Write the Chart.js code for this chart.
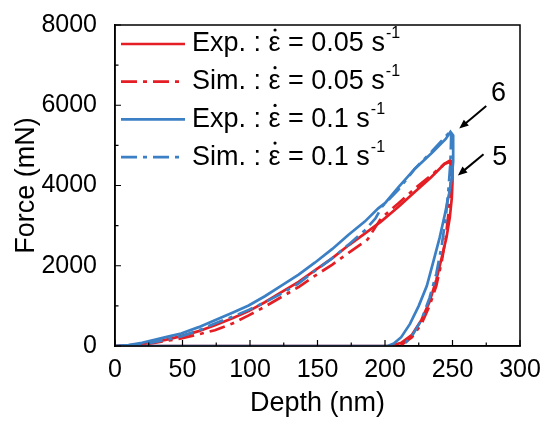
<!DOCTYPE html>
<html lang="en">
<head>
    <meta charset="UTF-8">
    <title>Force vs Depth</title>
    <style>
        html, body {
            margin: 0;
            padding: 0;
            background-color: #fff;
        }
        #wrap {
            width: 544px;
            height: 424px;
        }
    </style>
    <script src="https://cdn.jsdelivr.net/npm/chart.js"></script>
</head>
<body>
    <div id="wrap">
        <canvas id="forceChart" width="544" height="424"></canvas>
    </div>

    <script>
        // Axis ticks
        const depthTicks = [0, 50, 100, 150, 200, 250, 300];
        const forceTicks = [0, 2000, 4000, 6000, 8000];

        // Exp. at 0.05 s^-1 : loading, unloading, then back along zero
        const expSlowDepth = [0, 10, 20, 30, 40, 49, 62, 74, 87, 99, 111, 123, 136, 148, 161, 173, 185, 197, 210, 222, 234, 244, 249,
                              250, 250, 249.5, 248, 245.5, 242, 238, 233, 227, 220, 212, 204, 150, 100, 50, 0];
        const expSlowForce = [0, 15, 50, 100, 170, 246, 370, 517, 690, 869, 1090, 1337, 1600, 1887, 2190, 2510, 2800, 3100, 3470, 3840, 4200, 4537, 4600,
                              4550, 4100, 3700, 3200, 2700, 2200, 1650, 1100, 650, 280, 80, 0, 0, 0, 0, 0];

        // Sim. at 0.05 s^-1
        const simSlowDepth = [0, 10, 20, 30, 40, 49, 62, 74, 87, 99, 111, 123, 136, 148, 161, 173, 187, 197, 210, 222, 234, 244, 248,
                              249, 248.5, 247, 245, 242, 238, 233, 227, 220, 211];
        const simSlowForce = [0, 8, 30, 80, 140, 190, 290, 394, 560, 763, 980, 1214, 1470, 1747, 2030, 2322, 2650, 3180, 3560, 3922, 4250, 4537, 4620,
                              4450, 3900, 3300, 2700, 2100, 1500, 1000, 550, 220, 0];

        // Exp. at 0.1 s^-1
        const expFastDepth = [0, 10, 20, 30, 40, 49, 62, 74, 87, 99, 111, 123, 136, 148, 161, 173, 185, 195, 200, 210, 222, 235, 245, 248.5, 250.5,
                              250.5, 249.5, 247.5, 244.5, 240.5, 236, 231, 225, 218.5, 212, 206.5, 202, 150, 100, 50, 0];
        const expFastForce = [0, 25, 80, 160, 240, 312, 470, 640, 830, 1009, 1240, 1500, 1780, 2076, 2420, 2773, 3100, 3430, 3560, 3960, 4414, 4820, 5160, 5340, 5250,
                              4600, 4200, 3800, 3300, 2700, 2130, 1500, 1000, 550, 220, 60, 0, 0, 0, 0, 0];

        // Sim. at 0.1 s^-1
        const simFastDepth = [0, 10, 20, 30, 40, 49, 62, 74, 87, 99, 111, 123, 136, 148, 161, 173, 185, 193, 198, 210, 222, 235, 247, 248.5,
                              249, 248.5, 247, 245, 242, 238, 233, 227, 220, 213];
        const simFastForce = [0, 10, 40, 100, 170, 240, 390, 560, 730, 900, 1090, 1300, 1560, 1870, 2190, 2526, 2880, 3183, 3480, 3900, 4414, 4860, 5300, 5370,
                              5200, 4600, 3900, 3200, 2500, 1800, 1200, 650, 250, 0];

        const seriesKind = ['Exp.', 'Sim.', 'Exp.', 'Sim.'];
        const seriesRate = ['0.05', '0.05', '0.1', '0.1'];

        // Callouts: label, tail (depth, force), tip (depth, force), text anchor
        const calloutText = ['6', '5'];
        const calloutTail = [[275, 5980], [273, 4780]];
        const calloutTip = [[255, 5420], [254, 4250]];
        const calloutLabel = [[284, 6280], [285, 4700]];

        const RED = '#e41e24';
        const BLUE = '#3b7fc4';
        const DASHDOT = [16, 6, 4, 6];
        const FONT = '"Liberation Sans", Arial, sans-serif';

        function pairs(xs, ys) {
            return xs.map((x, i) => ({ x: x, y: ys[i] }));
        }

        const datasets = [
            { data: pairs(expSlowDepth, expSlowForce), borderColor: RED, borderDash: [], order: 3 },
            { data: pairs(simSlowDepth, simSlowForce), borderColor: RED, borderDash: DASHDOT, order: 2 },
            { data: pairs(expFastDepth, expFastForce), borderColor: BLUE, borderDash: [], order: 1 },
            { data: pairs(simFastDepth, simFastForce), borderColor: BLUE, borderDash: DASHDOT, order: 0 }
        ].map((d, i) => Object.assign(d, {
            label: seriesKind[i] + ' : ε = ' + seriesRate[i] + ' s-1',
            borderWidth: 2.7,
            pointRadius: 0,
            showLine: true,
            fill: false,
            tension: 0
        }));

        // Frame, inward ticks, legend and arrows
        const decorations = {
            id: 'decorations',
            afterDraw(chart) {
                const { ctx, chartArea: a, scales: { x, y } } = chart;
                ctx.save();

                // box
                ctx.strokeStyle = '#000';
                ctx.lineWidth = 1.5;
                ctx.strokeRect(a.left, a.top, a.right - a.left, a.bottom - a.top);

                // major and minor ticks pointing inwards
                ctx.lineWidth = 1.2;
                ctx.beginPath();
                depthTicks.forEach((v, i) => {
                    const px = x.getPixelForValue(v);
                    ctx.moveTo(px, a.bottom);
                    ctx.lineTo(px, a.bottom - 6);
                    if (i < depthTicks.length - 1) {
                        const mx = x.getPixelForValue((v + depthTicks[i + 1]) / 2);
                        ctx.moveTo(mx, a.bottom);
                        ctx.lineTo(mx, a.bottom - 3.5);
                    }
                });
                forceTicks.forEach((v, i) => {
                    const py = y.getPixelForValue(v);
                    ctx.moveTo(a.left, py);
                    ctx.lineTo(a.left + 6, py);
                    if (i < forceTicks.length - 1) {
                        const my = y.getPixelForValue((v + forceTicks[i + 1]) / 2);
                        ctx.moveTo(a.left, my);
                        ctx.lineTo(a.left + 3.5, my);
                    }
                });
                ctx.stroke();

                // legend
                ctx.textBaseline = 'middle';
                ctx.textAlign = 'left';
                chart.data.datasets.forEach((ds, i) => {
                    const rowY = a.top + 19 + i * 37.7;
                    ctx.strokeStyle = ds.borderColor;
                    ctx.lineWidth = 2.7;
                    ctx.setLineDash(ds.borderDash);
                    ctx.beginPath();
                    ctx.moveTo(a.left + 6, rowY);
                    ctx.lineTo(a.left + 70, rowY);
                    ctx.stroke();
                    ctx.setLineDash([]);

                    ctx.fillStyle = '#000';
                    ctx.font = '27px ' + FONT;
                    let tx = a.left + 77;
                    const head = seriesKind[i] + ' : ';
                    ctx.fillText(head, tx, rowY);
                    tx += ctx.measureText(head).width;
                    const epsW = ctx.measureText('ε').width;
                    ctx.fillText('ε', tx, rowY);
                    ctx.beginPath();
                    ctx.arc(tx + epsW / 2 + 0.5, rowY - 14, 1.6, 0, Math.PI * 2);
                    ctx.fill();
                    tx += epsW;
                    const tail = ' = ' + seriesRate[i] + ' s';
                    ctx.fillText(tail, tx, rowY);
                    tx += ctx.measureText(tail).width;
                    ctx.font = '16px ' + FONT;
                    ctx.fillText('-1', tx + 1, rowY - 10);
                });

                // arrows with numbers
                ctx.strokeStyle = '#000';
                ctx.fillStyle = '#000';
                ctx.lineWidth = 2;
                calloutText.forEach((t, i) => {
                    const x0 = x.getPixelForValue(calloutTail[i][0]);
                    const y0 = y.getPixelForValue(calloutTail[i][1]);
                    const x1 = x.getPixelForValue(calloutTip[i][0]);
                    const y1 = y.getPixelForValue(calloutTip[i][1]);
                    const ang = Math.atan2(y1 - y0, x1 - x0);
                    const head = 10;
                    ctx.beginPath();
                    ctx.moveTo(x0, y0);
                    ctx.lineTo(x1 - Math.cos(ang) * head * 0.8, y1 - Math.sin(ang) * head * 0.8);
                    ctx.stroke();
                    ctx.beginPath();
                    ctx.moveTo(x1, y1);
                    ctx.lineTo(x1 - head * Math.cos(ang - 0.4), y1 - head * Math.sin(ang - 0.4));
                    ctx.lineTo(x1 - head * Math.cos(ang + 0.4), y1 - head * Math.sin(ang + 0.4));
                    ctx.closePath();
                    ctx.fill();

                    ctx.font = '27px ' + FONT;
                    ctx.textAlign = 'center';
                    ctx.fillText(t, x.getPixelForValue(calloutLabel[i][0]), y.getPixelForValue(calloutLabel[i][1]));
                });

                ctx.restore();
            }
        };

        const tickFont = { family: FONT, size: 25 };
        const titleFont = { family: FONT, size: 27 };

        new Chart(document.getElementById('forceChart'), {
            type: 'scatter',
            data: { datasets: datasets },
            options: {
                responsive: false,
                animation: false,
                layout: { padding: { top: 21, right: 24, left: 0, bottom: 0 } },
                plugins: {
                    legend: { display: false },
                    tooltip: { enabled: false }
                },
                scales: {
                    x: {
                        type: 'linear',
                        min: depthTicks[0],
                        max: depthTicks[depthTicks.length - 1],
                        afterBuildTicks: s => { s.ticks = depthTicks.map(v => ({ value: v })); },
                        afterFit: s => { s.height = 78; },
                        grid: { display: false },
                        border: { display: true, color: '#000', width: 1.5 },
                        ticks: { color: '#000', font: tickFont, padding: 1, maxRotation: 0, callback: v => String(v) },
                        title: { display: true, text: 'Depth (nm)', color: '#000', font: titleFont, padding: { bottom: 4 } }
                    },
                    y: {
                        type: 'linear',
                        min: forceTicks[0],
                        max: forceTicks[forceTicks.length - 1],
                        afterBuildTicks: s => { s.ticks = forceTicks.map(v => ({ value: v })); },
                        afterFit: s => { s.width = 115; },
                        grid: { display: false },
                        border: { display: true, color: '#000', width: 1.5 },
                        ticks: { color: '#000', font: tickFont, padding: 10, callback: v => String(v) },
                        title: { display: true, text: 'Force (mN)', color: '#000', font: titleFont, padding: { top: 10 } }
                    }
                }
            },
            plugins: [decorations]
        });
    </script>
</body>
</html>
